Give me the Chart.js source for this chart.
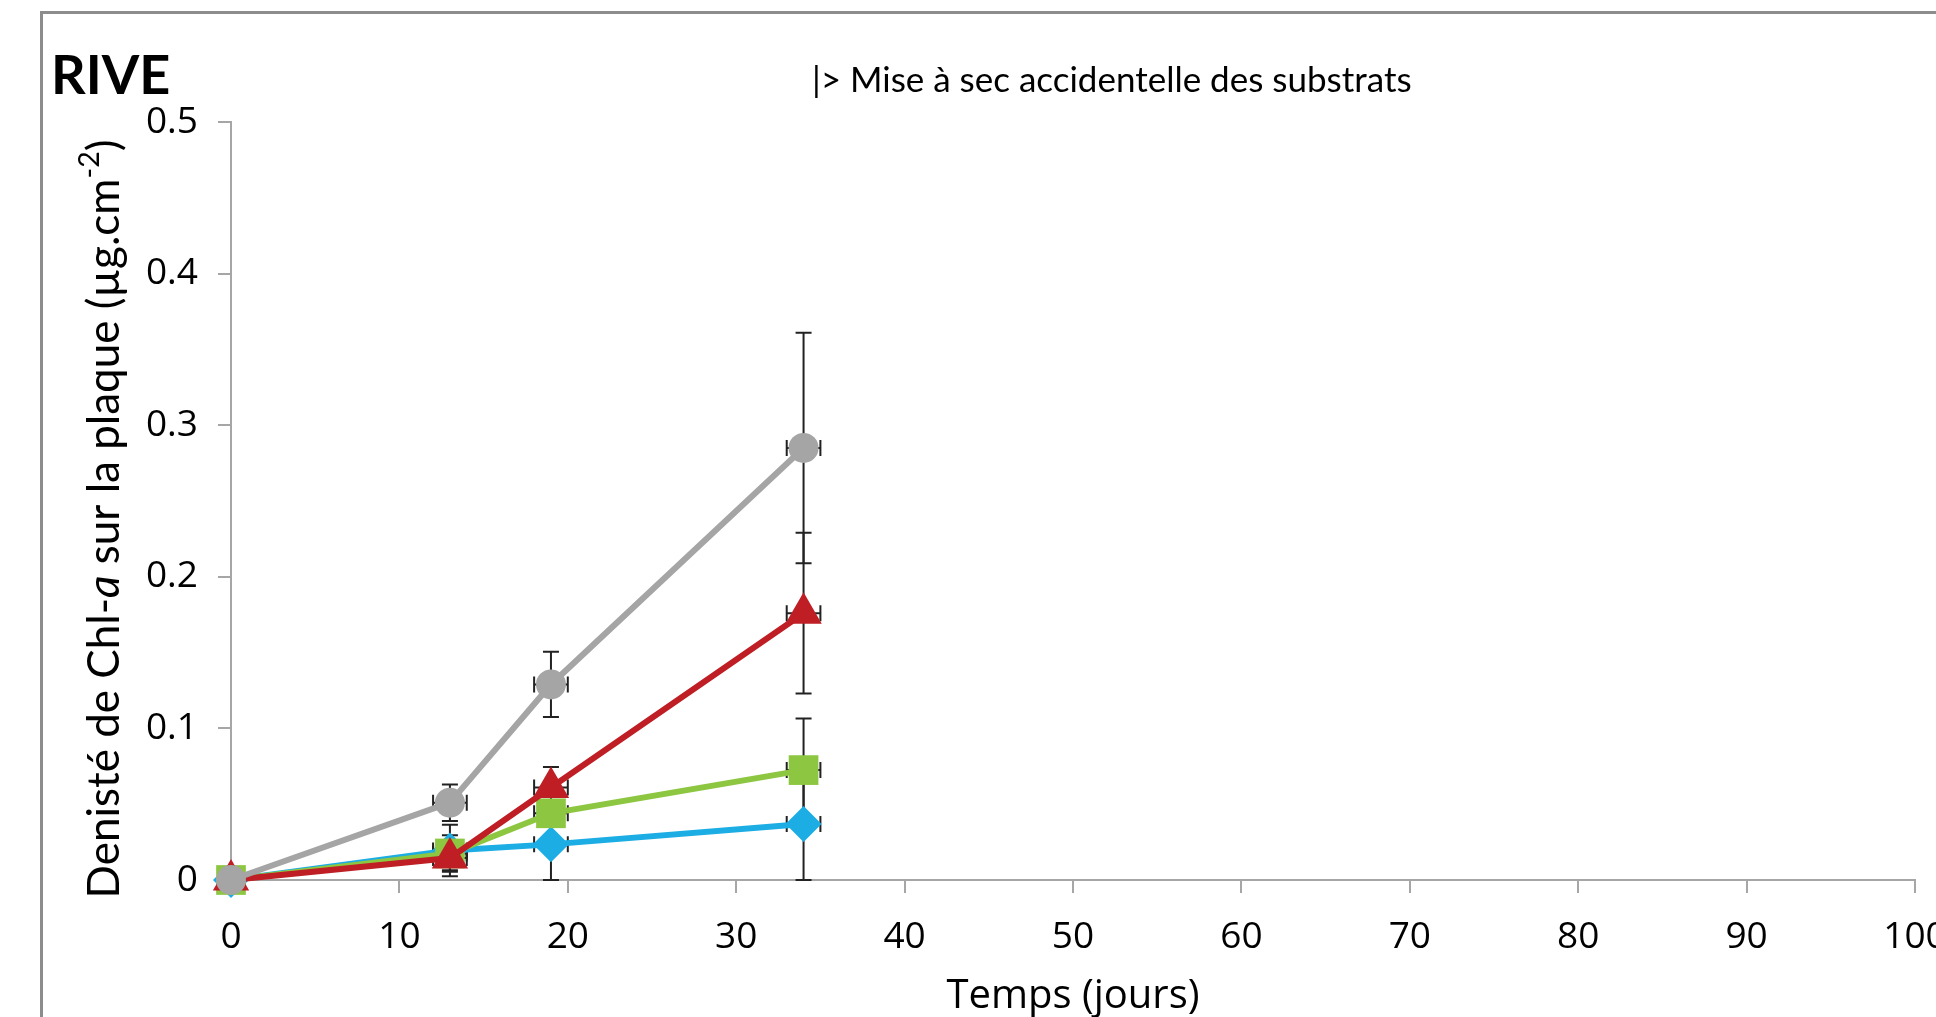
<!DOCTYPE html>
<html>
<head>
<meta charset="utf-8">
<script src="https://cdn.jsdelivr.net/npm/chart.js@4.4.1/dist/chart.umd.min.js"></script>
<style>
  html, body { margin: 0; padding: 0; background: #fff; overflow: hidden; }
  #wrap { position: relative; width: 1936px; height: 1017px; }
  #frame { position: absolute; left: 40px; top: 11px; width: 2000px; height: 1100px; border: 3px solid #8c8c8c; }
  #chart { position: absolute; left: 0; top: 0; }
</style>
</head>
<body>
<div id="wrap">
  <div id="frame"></div>
  <canvas id="chart" width="1936" height="1017"></canvas>
</div>
<script>
// jours de prélèvement
const days = [0, 13, 19, 34];
const dayErr = [0, 1, 1, 1];

// densité de Chl-a (µg.cm-2) et écarts
const grisVals = [0, 0.051, 0.129, 0.285];
const grisErr = [0, 0.012, 0.0215, 0.076];
const rougeVals = [0, 0.0145, 0.061, 0.176];
const rougeErr = [0, 0.008, 0.0135, 0.053];
const vertVals = [0, 0.0175, 0.044, 0.0725];
const vertErr = [0, 0.012, 0.008, 0.034];
const bleuVals = [0, 0.0195, 0.0235, 0.037];
const bleuErr = [0, 0.017, 0.0235, 0.037];

const yTitleParts = [
  { t: 'Denisté de Chl-', italic: false },
  { t: 'a', italic: true },
  { t: ' sur la plaque (µg.cm', italic: false },
  { t: '-2', italic: false, sup: true },
  { t: ')', italic: false }
];

const toPoints = vals => days.map((d, i) => ({ x: d, y: vals[i] }));
const errs = [grisErr, rougeErr, vertErr, bleuErr];

// barres d'erreur (x et y), dessinées sous les marqueurs
const errorBars = {
  id: 'errorBars',
  beforeDatasetsDraw(chart) {
    const { ctx, scales: { x, y } } = chart;
    const cap = 8;
    ctx.save();
    ctx.strokeStyle = '#222';
    ctx.lineWidth = 2;
    chart.data.datasets.forEach((ds, k) => {
      ds.data.forEach((p, i) => {
        const px = x.getPixelForValue(p.x);
        const py = y.getPixelForValue(p.y);
        const e = errs[k][i];
        if (e > 0) {
          const t = y.getPixelForValue(p.y + e);
          const b = y.getPixelForValue(p.y - e);
          ctx.beginPath();
          ctx.moveTo(px, t); ctx.lineTo(px, b);
          ctx.moveTo(px - cap, t); ctx.lineTo(px + cap, t);
          ctx.moveTo(px - cap, b); ctx.lineTo(px + cap, b);
          ctx.stroke();
        }
        const ex = dayErr[i];
        if (ex > 0) {
          const l = x.getPixelForValue(p.x - ex);
          const r = x.getPixelForValue(p.x + ex);
          ctx.beginPath();
          ctx.moveTo(l, py); ctx.lineTo(r, py);
          ctx.moveTo(l, py - cap); ctx.lineTo(l, py + cap);
          ctx.moveTo(r, py - cap); ctx.lineTo(r, py + cap);
          ctx.stroke();
        }
      });
    });
    ctx.restore();
  }
};

// textes libres : RIVE, annotation, titre de l'axe y
const extraText = {
  id: 'extraText',
  afterDraw(chart) {
    const { ctx } = chart;
    ctx.save();
    ctx.fillStyle = '#000';
    ctx.textBaseline = 'alphabetic';
    ctx.font = 'bold 54px Lato';
    ctx.fillText('RIVE', 51, 94);
    ctx.font = '35px Lato';
    ctx.fillText('|> Mise à sec accidentelle des substrats', 812, 92);

    // titre y avec a italique et exposant
    const size = 44;
    const fontFor = p => (p.italic ? 'italic ' : '') + (p.sup ? size * 0.65 : size) + 'px Lato';
    let total = 0;
    yTitleParts.forEach(p => { ctx.font = fontFor(p); total += ctx.measureText(p.t).width; });
    ctx.translate(105, 519);
    ctx.rotate(-Math.PI / 2);
    ctx.textBaseline = 'middle';
    let cx = -total / 2;
    yTitleParts.forEach(p => {
      ctx.font = fontFor(p);
      ctx.fillText(p.t, cx, p.sup ? -size * 0.35 : 0);
      cx += ctx.measureText(p.t).width;
    });
    ctx.restore();
  }
};

const axisGrey = '#a6a6a6';
const tickFont = { family: 'Open Sans', size: 37 };

new Chart(document.getElementById('chart'), {
  type: 'line',
  data: {
    datasets: [
      { label: 'gris', data: toPoints(grisVals), borderColor: '#a5a5a5', backgroundColor: '#a5a5a5',
        pointStyle: 'circle', pointRadius: 15, order: 0 },
      { label: 'rouge', data: toPoints(rougeVals), borderColor: '#be1e24', backgroundColor: '#be1e24',
        pointStyle: 'triangle', pointRadius: 21, order: 1 },
      { label: 'vert', data: toPoints(vertVals), borderColor: '#8dc641', backgroundColor: '#8dc641',
        pointStyle: 'rect', pointRadius: 21, order: 2 },
      { label: 'bleu', data: toPoints(bleuVals), borderColor: '#1cade4', backgroundColor: '#1cade4',
        pointStyle: 'rectRot', pointRadius: 18, order: 3 }
    ]
  },
  options: {
    responsive: false,
    animation: false,
    datasets: { line: { borderWidth: 6, pointBorderWidth: 0, tension: 0, clip: false } },
    layout: { padding: { left: 0, right: 18, top: 122, bottom: 0 } },
    plugins: { legend: { display: false }, tooltip: { enabled: false } },
    scales: {
      x: {
        type: 'linear', min: 0, max: 100,
        ticks: { stepSize: 10, font: tickFont, color: '#000', padding: 22, maxRotation: 0 },
        grid: { drawOnChartArea: false, color: axisGrey, lineWidth: 2, tickLength: 13 },
        border: { color: axisGrey, width: 2 },
        title: { display: true, text: 'Temps (jours)', color: '#000', font: { family: 'Open Sans', size: 40, lineHeight: 1.0 }, padding: 0 },
        afterFit(s) { s.height = 137; s.paddingLeft = 0; s.paddingRight = 0; }
      },
      y: {
        min: 0, max: 0.5,
        ticks: { stepSize: 0.1, font: tickFont, color: '#000', padding: 20 },
        grid: { drawOnChartArea: false, color: axisGrey, lineWidth: 2, tickLength: 13 },
        border: { color: axisGrey, width: 2 },
        afterFit(s) { s.width = 231; }
      }
    }
  },
  plugins: [errorBars, extraText]
});
</script>
</body>
</html>
